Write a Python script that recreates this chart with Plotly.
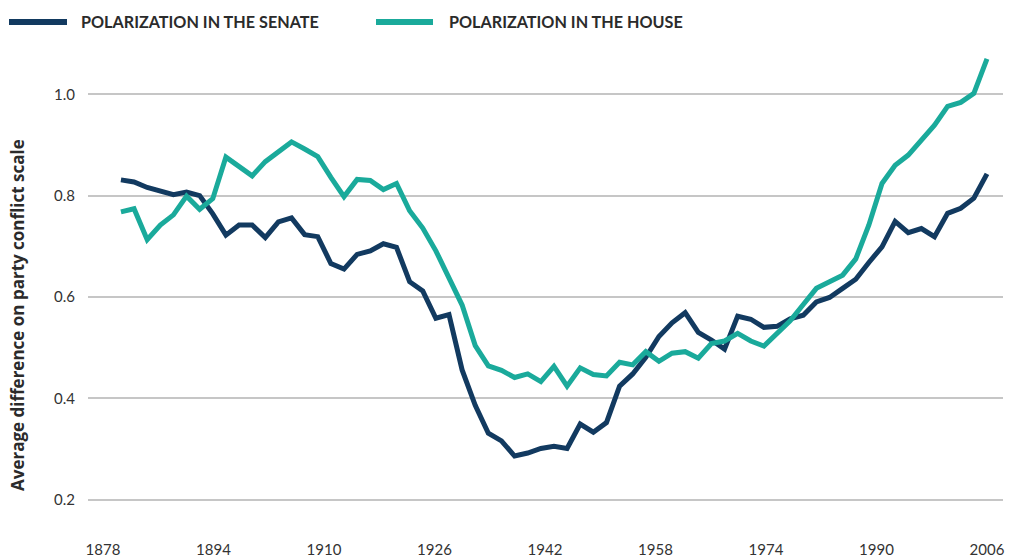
import plotly.graph_objects as go

# ---- data ----
n_points = 67
years = [round(1880.6 + 1.9 * i, 2) for i in range(n_points)]

senate = [0.831, 0.827, 0.816, 0.808, 0.802, 0.807, 0.800, 0.764, 0.722, 0.742,
          0.742, 0.717, 0.748, 0.756, 0.723, 0.719, 0.666, 0.655, 0.684, 0.691,
          0.705, 0.698, 0.630, 0.612, 0.558, 0.565, 0.456, 0.386, 0.331, 0.316,
          0.286, 0.292, 0.301, 0.305, 0.301, 0.349, 0.333, 0.352, 0.424, 0.448,
          0.481, 0.522, 0.549, 0.569, 0.530, 0.515, 0.497, 0.562, 0.556, 0.540,
          0.542, 0.557, 0.564, 0.590, 0.599, 0.617, 0.635, 0.668, 0.699, 0.749,
          0.727, 0.735, 0.719, 0.765, 0.775, 0.795, 0.843]

house = [0.768, 0.774, 0.713, 0.742, 0.762, 0.799, 0.773, 0.794, 0.876, 0.858,
         0.839, 0.867, 0.887, 0.906, 0.892, 0.877, 0.836, 0.798, 0.832, 0.830,
         0.812, 0.824, 0.770, 0.736, 0.691, 0.637, 0.584, 0.504, 0.464, 0.455,
         0.441, 0.448, 0.433, 0.463, 0.424, 0.460, 0.447, 0.444, 0.471, 0.466,
         0.492, 0.473, 0.489, 0.492, 0.479, 0.508, 0.513, 0.528, 0.513, 0.503,
         0.528, 0.553, 0.585, 0.617, 0.630, 0.643, 0.675, 0.742, 0.824, 0.860,
         0.880, 0.910, 0.939, 0.976, 0.984, 1.002, 1.070]

x_ticks = [1878, 1894, 1910, 1926, 1942, 1958, 1974, 1990, 2006]
y_ticks = [0.2, 0.4, 0.6, 0.8, 1.0]
series_names = ["POLARIZATION IN THE SENATE", "POLARIZATION IN THE HOUSE"]
y_title = "Average difference on party conflict scale"

# ---- style ----
NAVY = "#123a60"
TEAL = "#1aaa9b"
FONT = "Lato, 'Open Sans', sans-serif"
TXT = "#2b2b2b"

W, H = 1010, 557
L, R, T, B = 88, 7, 50, 42
pw, ph = W - L - R, H - T - B


def px_x(p):
    return (p - L) / pw


def px_y(p):
    return (H - B - p) / ph


fig = go.Figure()
fig.add_trace(go.Scatter(x=years, y=senate, mode="lines", name=series_names[0],
                         line=dict(color=NAVY, width=5), showlegend=False,
                         cliponaxis=False))
fig.add_trace(go.Scatter(x=years, y=house, mode="lines", name=series_names[1],
                         line=dict(color=TEAL, width=5), showlegend=False,
                         cliponaxis=False))

# custom legend (key lines + labels)
legend_y = px_y(22)
keys = [(9, 67, 79, NAVY, series_names[0]), (376, 433, 447, TEAL, series_names[1])]
for x0, x1, xt, col, label in keys:
    fig.add_shape(type="line", xref="paper", yref="paper",
                  x0=px_x(x0), x1=px_x(x1), y0=legend_y, y1=legend_y,
                  line=dict(color=col, width=6))
    fig.add_annotation(xref="paper", yref="paper", x=px_x(xt), y=legend_y,
                       xanchor="left", yanchor="middle", showarrow=False,
                       text="<b>" + label + "</b>",
                       font=dict(family=FONT, size=16.2, color=TXT))

fig.add_annotation(xref="paper", yref="paper", x=px_x(18), y=px_y(315),
                   xanchor="center", yanchor="middle", showarrow=False,
                   textangle=-90, text="<b>" + y_title + "</b>",
                   font=dict(family="'Open Sans', sans-serif", size=17, color=TXT))

fig.update_layout(
    width=W, height=H,
    margin=dict(l=L, r=R, t=T, b=B, autoexpand=False),
    paper_bgcolor="white", plot_bgcolor="white",
    font=dict(family=FONT, size=15, color="#333333"),
    showlegend=False,
    xaxis=dict(range=[1875.83, 2008.32], tickvals=x_ticks,
               ticktext=[str(t) for t in x_ticks], showgrid=False,
               zeroline=False, showline=False, ticks="", automargin=False,
               ticklabelstandoff=24, tickfont=dict(size=15, color="#333333")),
    yaxis=dict(range=[0.1696, 1.0874], tickvals=y_ticks,
               ticktext=["0.2", "0.4", "0.6", "0.8", "1.0"],
               showgrid=True, gridcolor="#c6c6c6", gridwidth=1.5,
               zeroline=False, showline=False, ticks="", automargin=False,
               ticklabelstandoff=12, tickfont=dict(size=15, color="#333333")),
)

fig.write_html("out.html",
               config={"displayModeBar": False},
               post_script="document.body.style.margin='0';document.body.style.overflow='hidden';")
